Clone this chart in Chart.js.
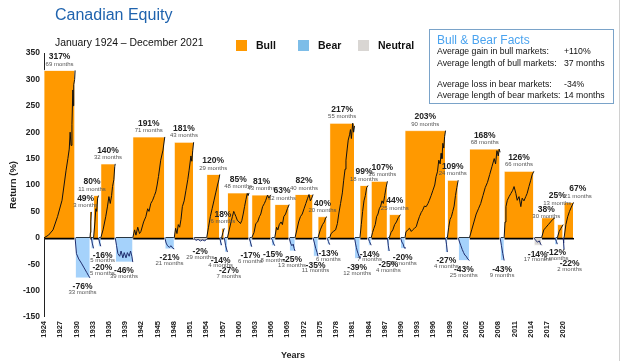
<!DOCTYPE html>
<html>
<head>
<meta charset="utf-8">
<script src="https://cdn.jsdelivr.net/npm/chart.js@4.4.1/dist/chart.umd.min.js"></script>
<style>
  body { margin: 0; background: #fff; font-family: "Liberation Sans", Arial, sans-serif; }
  #wrap { position: relative; width: 624px; height: 361px; overflow: hidden; }
  #chart { position: absolute; left: 0; top: 0; }
  .title { position: absolute; left: 55px; top: 6px; font-size: 16px; line-height: 18px; color: #1f63ae; }
  .sub { position: absolute; left: 55px; top: 36px; font-size: 10.4px; line-height: 13px; color: #111; }
  .lg-box { position: absolute; top: 40px; width: 11px; height: 11px; }
  .lg-txt { position: absolute; top: 39px; font-size: 10.5px; line-height: 13px; font-weight: bold; color: #111; }
  .facts { position: absolute; left: 429px; top: 29px; width: 183px; height: 73px; border: 1.5px solid #7aa3c9; }
  .facts div { position: absolute; white-space: nowrap; font-size: 8.7px; line-height: 11px; color: #111; }
  .facts .ftitle { font-size: 12px; line-height: 14px; color: #4aa3ef; }
  .years { position: absolute; left: 293px; top: 350px; transform: translateX(-50%); font-size: 9px; font-weight: bold; color: #222; }
  .frame { position: absolute; left: 619px; top: 0; width: 1px; height: 361px; background: #d0d0d0; }
</style>
</head>
<body>
<div id="wrap">
  <canvas id="chart" width="624" height="361"></canvas>
  <div class="title">Canadian Equity</div>
  <div class="sub">January 1924 – December 2021</div>

  <div class="lg-box" style="left:236px;background:#ff9900"></div>
  <div class="lg-txt" style="left:256px">Bull</div>
  <div class="lg-box" style="left:298px;background:#7dbde8"></div>
  <div class="lg-txt" style="left:318px">Bear</div>
  <div class="lg-box" style="left:358px;background:#d9d6d3"></div>
  <div class="lg-txt" style="left:378px">Neutral</div>

  <div class="facts">
    <div class="ftitle" style="left:7px;top:3px">Bull &amp; Bear Facts</div>
    <div style="left:7px;top:16px">Average gain in bull markets:</div>
    <div style="left:134px;top:16px">+110%</div>
    <div style="left:7px;top:28px">Average length of bull markets:</div>
    <div style="left:134px;top:28px">37 months</div>
    <div style="left:7px;top:49px">Average loss in bear markets:</div>
    <div style="left:134px;top:49px">-34%</div>
    <div style="left:7px;top:60px">Average length of bear markets:</div>
    <div style="left:134px;top:60px">14 months</div>
  </div>
  <div class="years">Years</div>
  <div class="frame"></div>
</div>

<script>
// markets in order, starting January 1924
var marketKinds = ["bull", "bear", "bull", "bear", "bull", "bear", "bull", "bear", "bull", "bear",
  "bull", "neutral", "bull", "bear", "bull", "bear", "bull", "bear", "bull", "bear",
  "bull", "bear", "bull", "bear", "bull", "bear", "bull", "bear", "bull", "bear",
  "bull", "bear", "bull", "bear", "bull", "bear", "bull", "bear", "bull", "bear",
  "bull", "neutral", "bull", "bear", "bull", "bear", "bull"];
var marketReturns = [317, -76, 49, -20, 80, -16, 140, -46, 191, -21,
  181, -2, 120, -14, 18, -27, 85, -17, 81, -15,
  63, -25, 82, -35, 40, -13, 217, -39, 99, -14,
  107, -25, 44, -20, 203, -27, 109, -43, 168, -43,
  126, -14, 38, -12, 25, -22, 67];
var marketMonths = [69, 33, 3, 5, 11, 5, 32, 39, 71, 21,
  43, 29, 29, 4, 6, 7, 48, 6, 43, 8,
  32, 13, 40, 11, 20, 6, 55, 12, 18, 7,
  36, 4, 25, 10, 90, 4, 24, 25, 68, 9,
  66, 17, 30, 5, 13, 2, 21];

// cumulative return path inside each market: [month, %]
var marketPaths = [
  [[0,0],[10,5],[20,15],[30,40],[40,71],[49,128],[53,150],[56,168],[58,200],[60,175],[62,215],[64,280],[65,250],[66,290],[68,300],[69,317]],
  [[0,0],[3,-30],[8,-40],[14,-48],[20,-57],[26,-66],[30,-72],[33,-76]],
  [[0,0],[1,10],[2,30],[3,49]],
  [[0,0],[2,-10],[5,-20]],
  [[0,0],[3,30],[5,55],[7,50],[9,75],[11,80]],
  [[0,0],[2,-8],[5,-16]],
  [[0,0],[5,15],[11,40],[15,60],[18,78],[21,65],[24,80],[26,97],[29,110],[31,135],[32,140]],
  [[0,0],[3,-15],[6,-30],[10,-35],[13,-25],[17,-38],[20,-28],[24,-38],[27,-28],[31,-35],[34,-25],[37,-35],[39,-46]],
  [[0,0],[4,15],[7,5],[11,20],[15,8],[18,12],[24,30],[29,40],[33,55],[36,50],[40,65],[44,71],[48,80],[51,87],[54,100],[57,116],[62,147],[67,166],[71,191]],
  [[0,0],[3,-10],[6,-15],[10,-18],[14,-15],[18,-20],[21,-21]],
  [[0,0],[3,18],[6,8],[9,25],[12,20],[15,35],[18,59],[22,70],[26,90],[30,110],[33,128],[37,155],[39,145],[41,165],[43,181]],
  [[0,0],[5,-5],[10,-3],[15,-6],[20,-4],[25,-6],[29,-2]],
  [[0,0],[4,20],[8,40],[12,55],[16,70],[20,85],[24,100],[27,110],[29,120]],
  [[0,0],[2,-8],[4,-14]],
  [[0,0],[3,10],[6,18]],
  [[0,0],[3,-15],[7,-27]],
  [[0,0],[4,15],[8,30],[11,40],[14,50],[16,46],[19,40],[22,33],[26,30],[29,27],[32,33],[35,45],[38,59],[41,72],[44,84],[46,80],[48,85]],
  [[0,0],[3,-8],[6,-17]],
  [[0,0],[5,10],[9,27],[13,30],[17,40],[20,45],[24,59],[28,65],[31,71],[35,81],[38,75],[41,80],[43,81]],
  [[0,0],[3,-5],[5,-10],[8,-15]],
  [[0,0],[4,20],[7,15],[10,25],[14,30],[17,25],[20,40],[24,45],[28,55],[32,63]],
  [[0,0],[3,-10],[6,-15],[9,-12],[11,-20],[13,-25]],
  [[0,0],[4,15],[8,30],[12,40],[16,45],[20,55],[24,65],[28,75],[31,82],[34,70],[37,75],[40,82]],
  [[0,0],[3,-10],[6,-20],[9,-28],[11,-35]],
  [[0,0],[5,15],[10,25],[14,30],[17,38],[20,40]],
  [[0,0],[3,-7],[6,-13]],
  [[0,0],[3,8],[8,12],[13,15],[17,27],[20,45],[24,65],[28,85],[31,109],[34,130],[36,147],[39,170],[41,185],[44,195],[46,205],[48,188],[51,217],[53,200],[55,212]],
  [[0,0],[2,-10],[4,-18],[6,-25],[8,-30],[10,-35],[12,-39]],
  [[0,0],[3,25],[6,50],[9,70],[12,80],[15,95],[18,99]],
  [[0,0],[3,-7],[7,-14]],
  [[0,0],[3,10],[6,18],[9,25],[12,40],[15,45],[18,55],[21,60],[24,70],[27,65],[30,80],[33,95],[36,107]],
  [[0,0],[2,-15],[4,-25]],
  [[0,0],[4,10],[8,15],[12,25],[16,30],[20,38],[25,44]],
  [[0,0],[3,-8],[6,-12],[8,-18],[10,-20]],
  [[0,0],[2,11],[6,15],[10,18],[14,12],[17,15],[21,18],[25,21],[28,30],[32,40],[36,48],[39,52],[43,60],[47,59],[51,65],[54,71],[58,80],[62,90],[66,100],[69,116],[72,125],[75,147],[78,140],[80,160],[82,150],[84,179],[86,170],[88,192],[90,203]],
  [[0,0],[2,-12],[4,-27]],
  [[0,0],[3,20],[6,35],[9,40],[12,50],[15,60],[18,80],[21,95],[24,109]],
  [[0,0],[3,-8],[6,-15],[9,-22],[12,-28],[15,-33],[18,-35],[21,-40],[25,-43]],
  [[0,0],[5,15],[10,30],[15,45],[20,55],[25,65],[30,80],[35,95],[40,105],[45,120],[50,135],[55,150],[58,140],[61,165],[64,155],[66,168],[68,162]],
  [[0,0],[3,-15],[6,-30],[9,-43]],
  [[0,0],[2,30],[4,59],[7,71],[11,78],[15,84],[19,90],[22,97],[26,84],[29,71],[33,78],[37,59],[40,75],[44,70],[48,78],[51,84],[55,97],[59,109],[62,119],[66,126]],
  [[0,0],[4,-5],[8,-8],[12,-6],[15,-12],[17,-14]],
  [[0,0],[5,15],[10,20],[15,25],[20,30],[25,35],[30,38]],
  [[0,0],[3,-7],[5,-12]],
  [[0,0],[4,12],[8,18],[13,25]],
  [[0,0],[1,-10],[2,-22]],
  [[0,0],[4,25],[8,40],[12,50],[16,58],[21,67]]
];

var tickYears = [1924, 1927, 1930, 1933, 1936, 1939, 1942, 1945, 1948, 1951, 1954, 1957, 1960,
  1963, 1966, 1969, 1972, 1975, 1978, 1981, 1984, 1987, 1990, 1993, 1996, 1999, 2002,
  2005, 2008, 2011, 2014, 2017, 2020];

// label tweaks so the small markets don't overlap [dx, dy]
var labelNudge = { 2: [-5, 0], 3: [10, 10], 4: [-4, 0], 5: [3, 0], 11: [0, 4], 13: [0, 6], 15: [3, 10],
  30: [3, 0], 31: [0, 5], 42: [-2, 5], 44: [-3, -15], 45: [6, 5], 46: [9, 0] };

var fillColors = { bull: "#ff9900", bear: "#a5d2fb", neutral: "#d9d6d3" };
var lineColors = { bull: "#111111", bear: "#1f2d6e", neutral: "#1f2d6e" };

var startYears = [];
var t = 1924;
marketMonths.forEach(function (m) {
  startYears.push(t);
  t += m / 12;
});

var datasets = [];
marketReturns.forEach(function (r, i) {
  var s = startYears[i];
  var e = s + marketMonths[i] / 12;
  datasets.push({
    data: [{ x: s, y: 0 }, { x: s, y: r }, { x: e, y: r }, { x: e, y: 0 }],
    backgroundColor: fillColors[marketKinds[i]],
    borderColor: marketMonths[i] >= 6 ? "#ffffff" : "transparent",
    borderWidth: 0.8,
    fill: "origin",
    pointRadius: 0,
    tension: 0,
    order: 2
  });
  datasets.push({
    data: marketPaths[i].map(function (p) { return { x: s + p[0] / 12, y: p[1] }; }),
    borderColor: lineColors[marketKinds[i]],
    borderWidth: 1,
    fill: false,
    pointRadius: 0,
    tension: 0,
    order: 1
  });
});

var labelPlugin = {
  id: "marketLabels",
  afterDatasetsDraw: function (chart) {
    var ctx = chart.ctx, x = chart.scales.x, y = chart.scales.y;
    ctx.save();
    ctx.textAlign = "center";
    ctx.textBaseline = "middle";
    marketReturns.forEach(function (r, i) {
      var n = labelNudge[i] || [0, 0];
      var cx = x.getPixelForValue(startYears[i] + marketMonths[i] / 24) + n[0];
      var edge = y.getPixelForValue(r);
      var py = r > 0 ? edge - 13.5 : edge + 9;
      var my = r > 0 ? edge - 6.5 : edge + 14.5;
      ctx.font = 'bold 8.5px "Liberation Sans", Arial';
      ctx.fillStyle = "#222";
      ctx.fillText(r + "%", cx, py + n[1]);
      ctx.font = '6px "Liberation Sans", Arial';
      ctx.fillStyle = "#555";
      ctx.fillText(marketMonths[i] + " months", cx, my + n[1]);
    });
    ctx.restore();
  }
};

new Chart(document.getElementById("chart").getContext("2d"), {
  type: "line",
  data: { datasets: datasets },
  plugins: [labelPlugin],
  options: {
    responsive: false,
    animation: false,
    events: [],
    layout: { padding: { left: 0, right: 50, top: 53, bottom: 0 } },
    plugins: { legend: { display: false }, tooltip: { enabled: false } },
    scales: {
      x: {
        type: "linear",
        min: 1924,
        max: 2022,
        afterFit: function (s) { s.height = 44; },
        afterBuildTicks: function (s) { s.ticks = tickYears.map(function (v) { return { value: v }; }); },
        grid: { display: false, drawTicks: false },
        border: { display: false },
        ticks: {
          minRotation: 90,
          maxRotation: 90,
          autoSkip: false,
          padding: 4,
          color: "#222",
          font: { family: "Liberation Sans", size: 7.5, weight: "bold" },
          callback: function (v) { return String(v); }
        }
      },
      y: {
        min: -150,
        max: 350,
        z: 1,
        afterFit: function (s) { s.width = 44; },
        grid: {
          drawTicks: false,
          color: function (c) { return c.tick && c.tick.value === 0 ? "#000" : "transparent"; },
          lineWidth: function (c) { return c.tick && c.tick.value === 0 ? 2.5 : 0; }
        },
        border: { display: true, color: "#222", width: 1 },
        ticks: {
          stepSize: 50,
          padding: 4,
          color: "#222",
          font: { family: "Liberation Sans", size: 8.5, weight: "bold" }
        },
        title: {
          display: true,
          text: "Return (%)",
          color: "#222",
          padding: { top: 8, bottom: 0 },
          font: { family: "Liberation Sans", size: 9.5, weight: "bold" }
        }
      }
    }
  }
});
</script>
</body>
</html>
